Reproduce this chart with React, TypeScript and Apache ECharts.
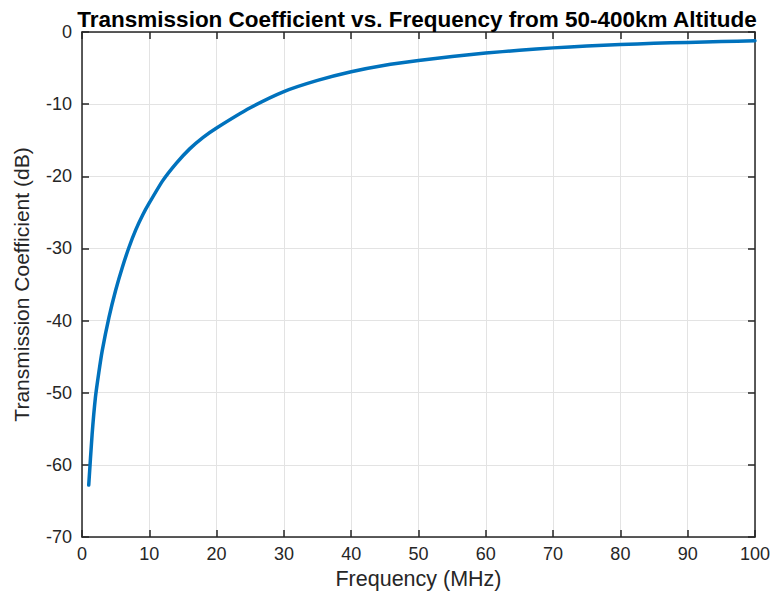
import React, { useEffect, useRef } from "react";
import * as echarts from "echarts";

const frequencies = [1, 1.5, 2, 2.5, 3, 4, 5, 6, 7, 8, 9, 10, 12, 14, 16, 18, 20, 25, 30, 35, 40, 45, 50, 55, 60, 65, 70, 75, 80, 85, 90, 95, 100];
const coefficients = [-62.8, -55.8, -50.6, -47.2, -44.2, -39.6, -35.8, -32.6, -29.8, -27.4, -25.4, -23.7, -20.6, -18.2, -16.2, -14.6, -13.3, -10.5, -8.25, -6.7, -5.5, -4.6, -3.95, -3.4, -2.92, -2.53, -2.2, -1.94, -1.73, -1.57, -1.44, -1.32, -1.21];
const xTicks = [0, 10, 20, 30, 40, 50, 60, 70, 80, 90, 100];
const yTicks = [-70, -60, -50, -40, -30, -20, -10, 0];

const titleText = "Transmission Coefficient vs. Frequency from 50-400km Altitude";
const xName = "Frequency (MHz)";
const yName = "Transmission Coefficient (dB)";

export default function App() {
  const ref = useRef<HTMLDivElement>(null);
  useEffect(() => {
    if (!ref.current) return;
    const chart = echarts.init(ref.current, null, { renderer: "svg" });
    const font = "Liberation Sans, Arial, Helvetica, sans-serif";
    const axisColor = "#262626";
    const baseAxis = {
      axisLine: { show: true, onZero: false, lineStyle: { color: axisColor, width: 1.5 } },
      axisTick: { show: true, inside: true, length: 7, lineStyle: { color: axisColor, width: 1.5 } },
    };
    chart.setOption({
      animation: false,
      backgroundColor: "#ffffff",
      title: {
        text: titleText,
        left: 412,
        top: 3,
        textAlign: "center",
        textStyle: { fontFamily: font, fontWeight: "bold", fontSize: 22.5, color: "#000000" },
      },
      grid: { left: 82, right: 18, top: 32, bottom: 61, containLabel: false },
      xAxis: [
        {
          type: "value",
          min: xTicks[0],
          max: xTicks[xTicks.length - 1],
          interval: 10,
          position: "bottom",
          name: xName,
          nameLocation: "middle",
          nameGap: 29,
          nameTextStyle: { fontFamily: font, fontSize: 21.5, color: axisColor },
          ...baseAxis,
          axisLabel: { fontFamily: font, fontSize: 18, color: axisColor, margin: 8 },
          splitLine: { show: true, lineStyle: { color: "#e3e3e3", width: 1 } },
        },
        {
          type: "value",
          min: xTicks[0],
          max: xTicks[xTicks.length - 1],
          interval: 10,
          position: "top",
          ...baseAxis,
          axisLabel: { show: false },
          splitLine: { show: false },
        },
      ],
      yAxis: [
        {
          type: "value",
          min: yTicks[0],
          max: yTicks[yTicks.length - 1],
          interval: 10,
          position: "left",
          name: yName,
          nameLocation: "middle",
          nameGap: 50,
          nameTextStyle: { fontFamily: font, fontSize: 21, color: axisColor },
          ...baseAxis,
          axisLabel: { fontFamily: font, fontSize: 18, color: axisColor, margin: 10 },
          splitLine: { show: true, lineStyle: { color: "#e3e3e3", width: 1 } },
        },
        {
          type: "value",
          min: yTicks[0],
          max: yTicks[yTicks.length - 1],
          interval: 10,
          position: "right",
          ...baseAxis,
          axisLabel: { show: false },
          splitLine: { show: false },
        },
      ],
      series: [
        {
          type: "line",
          data: frequencies.map((f, i) => [f, coefficients[i]]),
          showSymbol: false,
          smooth: 0.2,
          lineStyle: { color: "#0072BD", width: 3.5, cap: "round", join: "round" },
          clip: false,
        },
      ],
    });
    return () => chart.dispose();
  }, []);
  return (
    <div
      ref={ref}
      style={{ position: "absolute", left: 0, top: 0, width: 773, height: 598 }}
    />
  );
}
